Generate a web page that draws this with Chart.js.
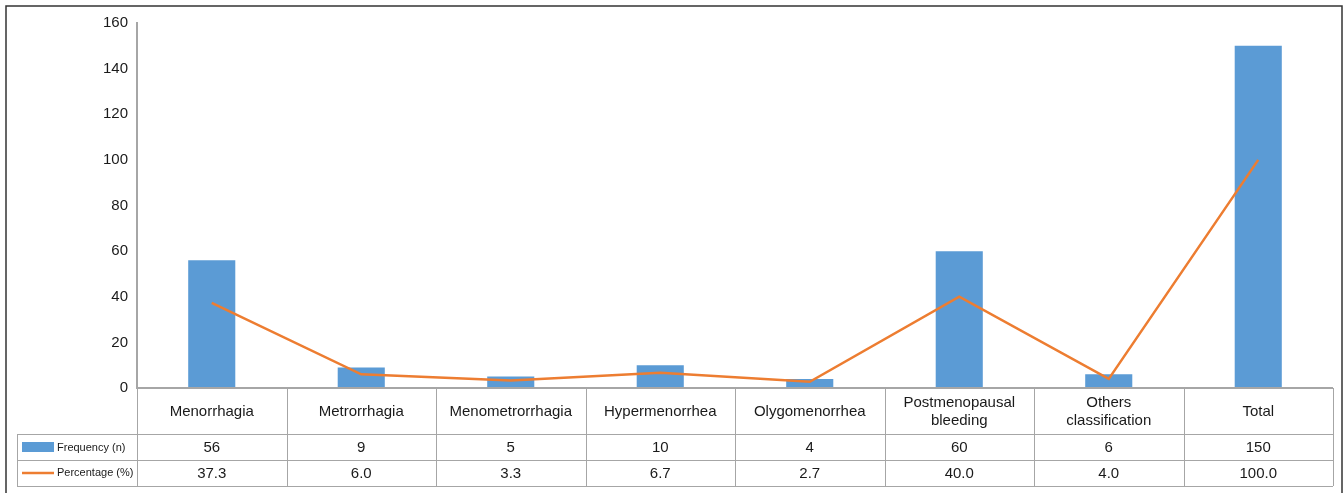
<!DOCTYPE html>
<html>
<head>
<meta charset="utf-8">
<script src="https://cdn.jsdelivr.net/npm/chart.js@4.4.1/dist/chart.umd.min.js"></script>
<style>
  html, body { margin: 0; padding: 0; background: #fff; }
  #wrap { width: 1344px; height: 493px; position: relative; }
</style>
</head>
<body>
<div id="wrap"><canvas id="c" width="1344" height="493"></canvas></div>
<script>
// Abnormal uterine bleeding classification: counts and share of cases
const categories = [
  ['Menorrhagia'],
  ['Metrorrhagia'],
  ['Menometrorrhagia'],
  ['Hypermenorrhea'],
  ['Olygomenorrhea'],
  ['Postmenopausal', 'bleeding'],
  ['Others', 'classification'],
  ['Total']
];
const frequency = [56, 9, 5, 10, 4, 60, 6, 150];
const percentage = [37.3, 6.0, 3.3, 6.7, 2.7, 40.0, 4.0, 100.0];
const frequencyLabels = ['56', '9', '5', '10', '4', '60', '6', '150'];
const percentageLabels = ['37.3', '6.0', '3.3', '6.7', '2.7', '40.0', '4.0', '100.0'];
const seriesNames = ['Frequency (n)', 'Percentage (%)'];
const yTicks = { min: 0, max: 160, step: 20 };

const BLUE = '#5B9BD5';
const ORANGE = '#ED7D31';
const GRID = '#a6a6a6';
const FONT = '"Liberation Sans", Arial, sans-serif';

// Draws the data table under the plot, the zero line and the frame
const dataTable = {
  id: 'dataTable',
  afterDraw(chart) {
    const ctx = chart.ctx;
    const x = chart.scales.x;
    const area = chart.chartArea;
    const n = categories.length;
    const half = (area.right - area.left) / n / 2;
    const top = area.bottom;
    const row1 = 434, row2 = 460, bottom = 486;
    const legendLeft = 17;

    ctx.save();
    ctx.strokeStyle = GRID;
    ctx.lineWidth = 1;
    ctx.beginPath();
    // horizontal rules
    ctx.moveTo(area.left, top + 0.5); ctx.lineTo(area.right, top + 0.5);
    ctx.moveTo(legendLeft, row1 + 0.5); ctx.lineTo(area.right, row1 + 0.5);
    ctx.moveTo(legendLeft, row2 + 0.5); ctx.lineTo(area.right, row2 + 0.5);
    ctx.moveTo(legendLeft, bottom + 0.5); ctx.lineTo(area.right, bottom + 0.5);
    // vertical rules
    ctx.moveTo(legendLeft + 0.5, row1); ctx.lineTo(legendLeft + 0.5, bottom);
    for (let i = 0; i <= n; i++) {
      const px = Math.round(i < n ? x.getPixelForValue(i) - half : x.getPixelForValue(n - 1) + half) + 0.5;
      ctx.moveTo(px, top); ctx.lineTo(px, bottom);
    }
    ctx.stroke();
    // thicker zero line
    ctx.lineWidth = 2;
    ctx.beginPath();
    ctx.moveTo(area.left - 1, top); ctx.lineTo(area.right, top);
    ctx.stroke();

    // text
    ctx.fillStyle = '#1a1a1a';
    ctx.textAlign = 'center';
    ctx.textBaseline = 'middle';
    ctx.font = '15px ' + FONT;
    categories.forEach((lines, i) => {
      const cx = x.getPixelForValue(i);
      const cy = (top + row1) / 2 + 1;
      const lh = 18;
      lines.forEach((t, k) => {
        ctx.fillText(t, cx, cy + (k - (lines.length - 1) / 2) * lh);
      });
      ctx.fillText(frequencyLabels[i], cx, (row1 + row2) / 2 + 1);
      ctx.fillText(percentageLabels[i], cx, (row2 + bottom) / 2 + 1);
    });

    // legend keys
    ctx.fillStyle = BLUE;
    ctx.fillRect(22, 442, 32, 10);
    ctx.strokeStyle = ORANGE;
    ctx.lineWidth = 2.5;
    ctx.beginPath();
    ctx.moveTo(22, 473); ctx.lineTo(54, 473);
    ctx.stroke();
    ctx.fillStyle = '#1a1a1a';
    ctx.textAlign = 'left';
    ctx.font = '11px ' + FONT;
    ctx.fillText(seriesNames[0], 57, 448);
    ctx.fillText(seriesNames[1], 57, 473);

    // outer frame
    ctx.strokeStyle = '#333';
    ctx.lineWidth = 1.5;
    ctx.beginPath();
    ctx.moveTo(6, 493); ctx.lineTo(6, 6); ctx.lineTo(1342, 6); ctx.lineTo(1342, 493);
    ctx.stroke();
    ctx.restore();
  }
};

new Chart(document.getElementById('c'), {
  data: {
    labels: categories,
    datasets: [
      {
        type: 'line',
        label: seriesNames[1],
        data: percentage,
        borderColor: ORANGE,
        borderWidth: 2.5,
        pointRadius: 0,
        tension: 0,
        order: 0
      },
      {
        type: 'bar',
        label: seriesNames[0],
        data: frequency,
        backgroundColor: BLUE,
        categoryPercentage: 1,
        barPercentage: 0.315,
        order: 1
      }
    ]
  },
  plugins: [dataTable],
  options: {
    responsive: false,
    devicePixelRatio: 1,
    animation: false,
    layout: { padding: { left: 0, right: 11, top: 23, bottom: 105 } },
    plugins: { legend: { display: false }, tooltip: { enabled: false } },
    scales: {
      x: { display: false },
      y: {
        min: yTicks.min,
        max: yTicks.max,
        ticks: { stepSize: yTicks.step, color: '#1a1a1a', padding: 9, font: { family: FONT, size: 15 } },
        grid: { display: false, drawTicks: false },
        border: { display: true, color: GRID, width: 2 },
        afterFit(scale) { scale.width = 137; }
      }
    }
  }
});
</script>
</body>
</html>
